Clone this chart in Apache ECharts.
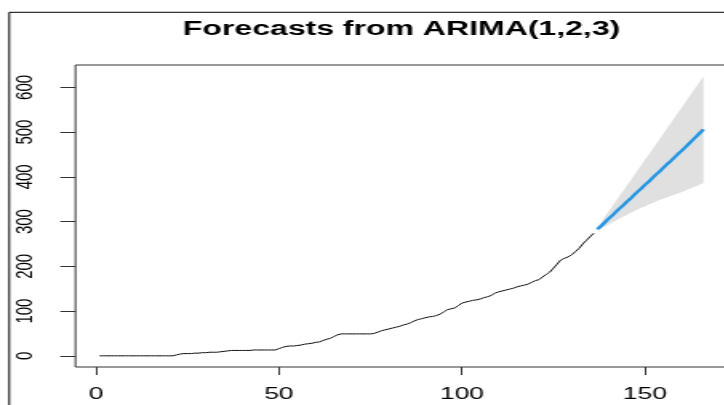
<!DOCTYPE html>
<html>
<head>
<meta charset="utf-8">
<script src="https://cdn.jsdelivr.net/npm/echarts@6/dist/echarts.min.js"></script>
<style>
  html, body { margin: 0; padding: 0; background: #fff; width: 724px; height: 405px; overflow: hidden; }
  #wrap { position: absolute; left: 0; top: 0; width: 724px; height: 405px; overflow: hidden; }
  /* the plot is laid out in a narrower frame and stretched sideways */
  #chart { position: absolute; left: 0; top: 0; width: 460px; height: 405px; transform: scaleX(1.6); transform-origin: 0 0; }
</style>
</head>
<body>
<div id="wrap"><div id="chart"></div></div>
<script>
// observed series, time index starts at 1
const obsStart = 1;
const observed = [
  0, 0, 0, 0, 0, 0, 0, 0, 0, 0, 0, 0, 0, 0, 0, 0, 0, 0, 0, 0, 0,
  2, 4, 5, 5, 5, 6, 6, 7, 7, 8, 8, 8, 9, 10, 11, 12,
  12, 12, 12, 12, 12, 13, 13, 13, 13, 13, 13, 13,
  16, 19, 21, 22, 22, 23, 24, 26, 27, 28, 30, 31, 34, 37, 39, 43, 47, 49,
  49, 49, 49, 49, 49, 49, 49, 49, 50,
  53, 56, 58, 60, 62, 64, 66, 69, 71, 74,
  78, 81, 83, 85, 87, 88, 90, 93, 98, 103,
  105, 107, 112, 118, 120, 122, 124, 125, 127, 130,
  132, 135, 140, 143, 145, 147, 149, 151, 154, 156,
  158, 160, 164, 168, 170, 176, 182, 187, 196, 205,
  214, 218, 221, 226, 233, 240, 250, 258, 266, 274
];

// ARIMA(1,2,3) point forecasts and 95% interval, horizon 1..30
const fcStart = 137;
const fcMean = [
  283, 290, 298, 306, 313, 321, 329, 336, 344, 351,
  359, 367, 374, 382, 389, 397, 405, 412, 420, 428,
  435, 443, 451, 458, 466, 474, 482, 490, 498, 506
];
const fcUpper = [
  287, 298, 310, 322, 333, 345, 357, 368, 380, 391,
  403, 415, 426, 438, 449, 461, 473, 484, 496, 508,
  519, 531, 543, 554, 566, 578, 590, 601, 613, 625
];
const fcLower = [
  280, 284, 289, 293, 298, 302, 307, 311, 315, 319,
  323, 327, 331, 334, 338, 341, 345, 348, 351, 354,
  357, 360, 363, 366, 369, 373, 376, 379, 383, 386
];

const xTicks = [0, 50, 100, 150];
const yTicks = [0, 100, 200, 300, 400, 500, 600];
const titleText = 'Forecasts from ARIMA(1,2,3)';

const obsData = observed.map((v, i) => [obsStart + i, v]);
const fcData = fcMean.map((v, i) => [fcStart + i, v]);
const bandData = fcMean.map((v, i) => [fcStart + i, fcLower[i], fcUpper[i]]);

const chart = echarts.init(document.getElementById('chart'), null, { renderer: 'canvas' });

const FONT = '"Liberation Sans", Arial, Helvetica, sans-serif';

chart.setOption({
  animation: false,
  backgroundColor: '#fff',
  graphic: [
    {
      type: 'rect',
      shape: { x: 5.8, y: 12.3, width: 800, height: 800 },
      style: { fill: 'none', stroke: '#000', lineWidth: 1 },
      silent: true
    },
    {
      type: 'text',
      x: 251,
      y: 29.5,
      style: {
        text: titleText,
        fill: '#000',
        font: 'bold 20px ' + FONT,
        align: 'center',
        verticalAlign: 'middle'
      },
      silent: true
    }
  ],
  grid: {
    left: 47.2,
    top: 65,
    width: 407.6,
    height: 302,
    show: true,
    borderColor: '#333',
    borderWidth: 1,
    backgroundColor: 'transparent',
    containLabel: false
  },
  xAxis: {
    type: 'value',
    min: -5.6,
    max: 172.6,
    splitLine: { show: false },
    axisLine: { show: false, onZero: false },
    axisTick: {
      show: true,
      customValues: xTicks,
      length: 8,
      lineStyle: { color: '#333', width: 1 }
    },
    axisLabel: {
      customValues: xTicks,
      margin: 19,
      color: '#000',
      fontSize: 16.5,
      fontFamily: FONT
    }
  },
  yAxis: {
    type: 'value',
    min: -25,
    max: 650,
    splitLine: { show: false },
    axisLine: { show: false, onZero: false },
    axisTick: {
      show: true,
      customValues: yTicks,
      length: 9.5,
      lineStyle: { color: '#333', width: 1 }
    },
    axisLabel: {
      customValues: yTicks,
      rotate: 90,
      margin: 23.5,
      color: '#000',
      fontSize: 15,
      fontFamily: FONT
    }
  },
  series: [
    {
      name: '95%',
      type: 'custom',
      data: bandData,
      silent: true,
      z: 1,
      renderItem: function (params, api) {
        if (params.dataIndex !== 0) return null;
        const pts = [];
        for (let i = 0; i < bandData.length; i++) {
          pts.push(api.coord([bandData[i][0], bandData[i][2]]));
        }
        for (let i = bandData.length - 1; i >= 0; i--) {
          pts.push(api.coord([bandData[i][0], bandData[i][1]]));
        }
        return {
          type: 'polygon',
          shape: { points: pts },
          style: { fill: '#e0e0e0', stroke: 'none' }
        };
      }
    },
    {
      name: 'observed',
      type: 'line',
      data: obsData,
      showSymbol: false,
      symbol: 'none',
      z: 3,
      lineStyle: { color: '#111', width: 1 }
    },
    {
      name: 'forecast',
      type: 'line',
      data: fcData,
      showSymbol: false,
      symbol: 'none',
      z: 4,
      lineStyle: { color: '#2297E6', width: 2.4 }
    }
  ]
});
</script>
</body>
</html>
